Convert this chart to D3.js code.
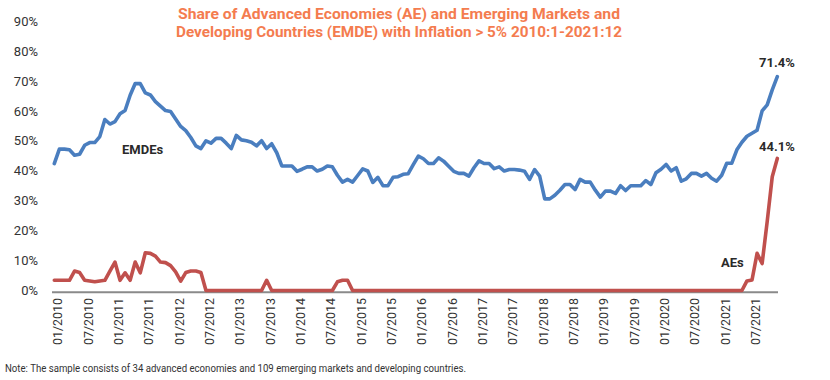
<!DOCTYPE html>
<html>
<head>
<meta charset="utf-8">
<script src="https://cdn.jsdelivr.net/npm/d3@7"></script>
<style>
  html, body { margin: 0; padding: 0; background: #ffffff; }
  svg { display: block; }
</style>
</head>
<body>
<svg id="chart" width="830" height="380"></svg>
<script>
// ---------------- DATA ----------------
const titleLines = [
  "Share of Advanced Economies (AE) and Emerging Markets and",
  "Developing Countries (EMDE) with Inflation > 5% 2010:1-2021:12"
];
const noteText = "Note: The sample consists of 34 advanced economies and 109 emerging markets and developing countries.";

const years = [2010, 2011, 2012, 2013, 2014, 2015, 2016, 2017, 2018, 2019, 2020, 2021];
const monthNums = ["01","02","03","04","05","06","07","08","09","10","11","12"];

const tickLabels = [
  "01/2010","07/2010","01/2011","07/2011","01/2012","07/2012",
  "01/2013","07/2013","01/2014","07/2014","01/2015","07/2015",
  "01/2016","07/2016","01/2017","07/2017","01/2018","07/2018",
  "01/2019","07/2019","01/2020","07/2020","01/2021","07/2021"
];

const yTicks = [0, 10, 20, 30, 40, 50, 60, 70, 80, 90];

// EMDE share (%) monthly 2010:1 - 2021:12
const emde = [
  42.4, 47.2, 47.2, 47.0, 45.2, 45.5, 48.5, 49.4, 49.4, 51.4, 57.1, 55.6,
  56.4, 59.0, 60.1, 65.2, 69.1, 69.1, 66.0, 65.3, 63.1, 61.6, 60.1, 59.8,
  57.3, 54.8, 53.4, 51.1, 48.3, 47.4, 50.0, 49.2, 50.8, 50.8, 49.2, 47.4,
  51.8, 50.3, 50.0, 49.5, 48.3, 50.0, 47.4, 49.0, 46.0, 41.6, 41.6, 41.6,
  39.8, 40.5, 41.3, 41.3, 39.9, 40.5, 41.6, 41.3, 38.5, 36.2, 37.1, 36.2,
  38.4, 40.6, 39.9, 36.1, 37.8, 35.0, 35.0, 37.8, 38.0, 38.8, 39.0, 42.0,
  44.9, 44.0, 42.4, 42.4, 44.3, 43.2, 41.5, 39.8, 39.1, 39.1, 38.2, 41.0,
  43.3, 42.4, 42.4, 40.7, 41.3, 39.9, 40.4, 40.4, 40.2, 39.8, 37.1, 40.4,
  38.2, 30.6, 30.6, 31.8, 33.5, 35.4, 35.4, 33.7, 37.1, 36.2, 36.2, 33.5,
  31.2, 33.2, 33.2, 32.4, 35.0, 33.4, 35.0, 35.0, 35.0, 36.7, 35.4, 39.3,
  40.5, 42.1, 39.9, 41.0, 36.5, 37.3, 39.1, 39.1, 38.2, 39.1, 37.5, 36.5,
  38.5, 42.5, 42.5, 47.0, 49.5, 51.5, 52.5, 53.5, 60.0, 62.0, 67.0, 71.4
];

// AE share (%) monthly 2010:1 - 2021:12
const ae = [
  3.4, 3.4, 3.4, 3.4, 6.5, 6.0, 3.4, 3.2, 2.9, 3.2, 3.4, 6.5,
  9.5, 3.4, 5.9, 3.4, 9.5, 5.9, 12.6, 12.4, 11.5, 9.5, 9.3, 8.3,
  6.2, 3.1, 6.0, 6.5, 6.5, 6.0, 0, 0, 0, 0, 0, 0,
  0, 0, 0, 0, 0, 0, 3.4, 0, 0, 0, 0, 0,
  0, 0, 0, 0, 0, 0, 0, 0, 2.9, 3.4, 3.4, 0,
  0, 0, 0, 0, 0, 0, 0, 0, 0, 0, 0, 0,
  0, 0, 0, 0, 0, 0, 0, 0, 0, 0, 0, 0,
  0, 0, 0, 0, 0, 0, 0, 0, 0, 0, 0, 0,
  0, 0, 0, 0, 0, 0, 0, 0, 0, 0, 0, 0,
  0, 0, 0, 0, 0, 0, 0, 0, 0, 0, 0, 0,
  0, 0, 0, 0, 0, 0, 0, 0, 0, 0, 0, 0,
  0, 0, 0, 0, 0, 3.2, 3.5, 12.4, 9.0, 23.0, 38.0, 44.1
];

const seriesNames = ["EMDEs", "AEs"];
const endLabels = ["71.4%", "44.1%"];

// ---------------- CHART ----------------
const months = [];
years.forEach(y => monthNums.forEach(m => months.push(m + "/" + y)));

const svg = d3.select("#chart");
const colBlue = "#4a7ebf";
const colRed = "#c0504d";
const colOrange = "#f47c4f";
const txtCol = "#333333";
const font = "Roboto, 'Liberation Sans', Arial, sans-serif";

const x = d3.scalePoint().domain(months).range([54.3, 777.3]);
const y = d3.scaleLinear().domain([0, 90]).range([290.5, 21]);

// Title
svg.append("g").selectAll("text").data(titleLines).enter().append("text")
  .attr("x", 399).attr("y", (d, i) => 19 + i * 17.5)
  .attr("text-anchor", "middle")
  .attr("font-family", font).attr("font-weight", "bold").attr("font-size", 15.5)
  .attr("fill", colOrange)
  .attr("textLength", (d, i) => i === 0 ? 442 : 446)
  .attr("lengthAdjust", "spacingAndGlyphs")
  .text(d => d);

// Y tick labels
svg.append("g").selectAll("text").data(yTicks).enter().append("text")
  .attr("x", 38).attr("y", d => y(d)).attr("dy", "0.36em")
  .attr("text-anchor", "end")
  .attr("font-family", font).attr("font-size", 13)
  .attr("fill", txtCol)
  .text(d => d + "%");

// baseline
svg.append("line")
  .attr("x1", 52).attr("x2", 778)
  .attr("y1", y(0) + 1.8).attr("y2", y(0) + 1.8)
  .attr("stroke", "#8a8a8a").attr("stroke-width", 2);

// X tick labels (rotated)
svg.append("g").selectAll("text").data(tickLabels).enter().append("text")
  .attr("transform", d => `translate(${x(d) + 8},298) rotate(-90)`)
  .attr("text-anchor", "end")
  .attr("font-family", font).attr("font-size", 12.5)
  .attr("fill", txtCol)
  .attr("textLength", 47).attr("lengthAdjust", "spacingAndGlyphs")
  .text(d => d);

// Lines
const line = d3.line()
  .x((d, i) => x(months[i]))
  .y(d => y(d))
  .curve(d3.curveLinear);

[[ae, colRed], [emde, colBlue]].forEach(([data, col]) => {
  svg.append("path")
    .datum(data)
    .attr("d", line)
    .attr("fill", "none")
    .attr("stroke", col)
    .attr("stroke-width", 3.6)
    .attr("stroke-linejoin", "round")
    .attr("stroke-linecap", "round");
});

// Series labels
svg.append("text").attr("x", 122).attr("y", 154)
  .attr("font-family", font).attr("font-weight", "bold").attr("font-size", 13)
  .attr("fill", "#2a2a2a").text(seriesNames[0]);
svg.append("text").attr("x", 721).attr("y", 267)
  .attr("font-family", font).attr("font-weight", "bold").attr("font-size", 13)
  .attr("fill", "#2a2a2a").text(seriesNames[1]);

// End value labels
svg.append("text").attr("x", 759).attr("y", 67)
  .attr("font-family", font).attr("font-weight", "bold").attr("font-size", 13)
  .attr("fill", "#2a2a2a").text(endLabels[0]);
svg.append("text").attr("x", 759).attr("y", 151)
  .attr("font-family", font).attr("font-weight", "bold").attr("font-size", 13)
  .attr("fill", "#2a2a2a").text(endLabels[1]);

// Note
svg.append("text").attr("x", 5).attr("y", 372)
  .attr("font-family", font).attr("font-size", 10)
  .attr("fill", txtCol)
  .attr("textLength", 461).attr("lengthAdjust", "spacingAndGlyphs")
  .text(noteText);
</script>
</body>
</html>
